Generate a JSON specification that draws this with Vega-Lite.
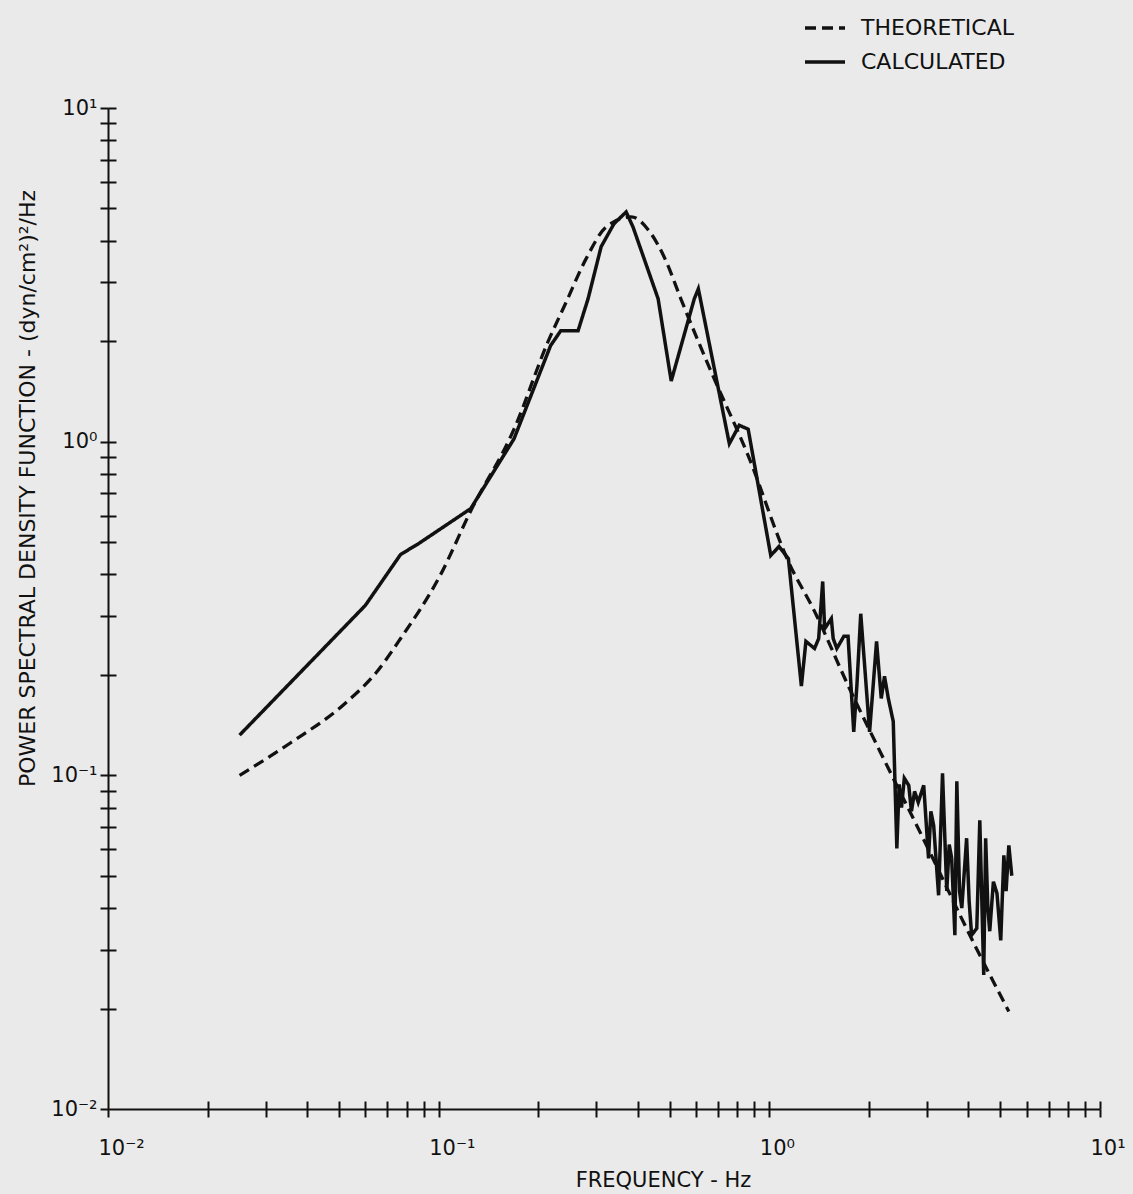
{
  "$schema": "https://vega.github.io/schema/vega-lite/v6.json",
  "width": 992,
  "height": 1001,
  "autosize": "none",
  "padding": {"left": 108, "top": 108, "right": 33, "bottom": 85},
  "background": "#eaeaea",
  "config": {
    "view": {"stroke": null},
    "axis": {
      "grid": false,
      "domainColor": "#111111",
      "tickColor": "#111111",
      "labelColor": "#111111",
      "titleColor": "#111111",
      "domainWidth": 2,
      "tickWidth": 2,
      "labelFont": "DejaVu Sans",
      "titleFont": "DejaVu Sans",
      "titleFontWeight": "normal",
      "labelOverlap": false,
      "labelFlush": false,
      "labelBound": false
    }
  },
  "datasets": {
    "theo": [
      {"f": 0.025, "p": 0.1},
      {"f": 0.0356, "p": 0.125},
      {"f": 0.052, "p": 0.164},
      {"f": 0.0644, "p": 0.202},
      {"f": 0.0767, "p": 0.257},
      {"f": 0.101, "p": 0.397},
      {"f": 0.125, "p": 0.62},
      {"f": 0.169, "p": 1.09},
      {"f": 0.214, "p": 1.99},
      {"f": 0.243, "p": 2.62},
      {"f": 0.279, "p": 3.53},
      {"f": 0.321, "p": 4.4},
      {"f": 0.382, "p": 4.72},
      {"f": 0.439, "p": 4.2},
      {"f": 0.487, "p": 3.48},
      {"f": 0.54, "p": 2.68},
      {"f": 0.667, "p": 1.62},
      {"f": 0.863, "p": 0.908},
      {"f": 1.142, "p": 0.437},
      {"f": 1.37, "p": 0.31},
      {"f": 1.73, "p": 0.186},
      {"f": 2.29, "p": 0.105},
      {"f": 2.89, "p": 0.066},
      {"f": 4.18, "p": 0.031},
      {"f": 5.3, "p": 0.0196}
    ],
    "calc": [
      {"f": 0.025, "p": 0.132},
      {"f": 0.06, "p": 0.323},
      {"f": 0.0767, "p": 0.459},
      {"f": 0.087, "p": 0.495},
      {"f": 0.125, "p": 0.63},
      {"f": 0.169, "p": 1.02},
      {"f": 0.218, "p": 1.94},
      {"f": 0.234, "p": 2.15},
      {"f": 0.264, "p": 2.15},
      {"f": 0.283, "p": 2.68},
      {"f": 0.31, "p": 3.84},
      {"f": 0.339, "p": 4.5},
      {"f": 0.369, "p": 4.88},
      {"f": 0.387, "p": 4.4},
      {"f": 0.461, "p": 2.68},
      {"f": 0.505, "p": 1.52},
      {"f": 0.593, "p": 2.68},
      {"f": 0.61, "p": 2.87},
      {"f": 0.757, "p": 0.986},
      {"f": 0.811, "p": 1.12},
      {"f": 0.863, "p": 1.09},
      {"f": 1.01, "p": 0.456},
      {"f": 1.07, "p": 0.485},
      {"f": 1.142, "p": 0.446},
      {"f": 1.25, "p": 0.185},
      {"f": 1.29, "p": 0.252},
      {"f": 1.37, "p": 0.24},
      {"f": 1.41, "p": 0.257},
      {"f": 1.45, "p": 0.381},
      {"f": 1.47, "p": 0.275},
      {"f": 1.54, "p": 0.295},
      {"f": 1.56, "p": 0.257},
      {"f": 1.6, "p": 0.24},
      {"f": 1.68, "p": 0.261},
      {"f": 1.73, "p": 0.261},
      {"f": 1.8, "p": 0.135},
      {"f": 1.84, "p": 0.186},
      {"f": 1.89, "p": 0.305},
      {"f": 2.01, "p": 0.135},
      {"f": 2.11, "p": 0.252},
      {"f": 2.18, "p": 0.17},
      {"f": 2.23, "p": 0.198},
      {"f": 2.29, "p": 0.17},
      {"f": 2.37, "p": 0.145},
      {"f": 2.43, "p": 0.0604},
      {"f": 2.47, "p": 0.094},
      {"f": 2.51, "p": 0.08},
      {"f": 2.56, "p": 0.098},
      {"f": 2.64, "p": 0.0933},
      {"f": 2.69, "p": 0.078},
      {"f": 2.75, "p": 0.0895},
      {"f": 2.82, "p": 0.083},
      {"f": 2.93, "p": 0.0933},
      {"f": 3.03, "p": 0.0564},
      {"f": 3.08, "p": 0.078},
      {"f": 3.14, "p": 0.0708},
      {"f": 3.25, "p": 0.0437},
      {"f": 3.34, "p": 0.1014},
      {"f": 3.44, "p": 0.045},
      {"f": 3.5, "p": 0.062},
      {"f": 3.56, "p": 0.0564},
      {"f": 3.64, "p": 0.0332},
      {"f": 3.69, "p": 0.096},
      {"f": 3.76, "p": 0.045},
      {"f": 3.82, "p": 0.04},
      {"f": 3.95, "p": 0.0648},
      {"f": 4.02, "p": 0.042},
      {"f": 4.09, "p": 0.0332},
      {"f": 4.24, "p": 0.0348},
      {"f": 4.33, "p": 0.0733},
      {"f": 4.45, "p": 0.0252},
      {"f": 4.51, "p": 0.0648},
      {"f": 4.58, "p": 0.04},
      {"f": 4.64, "p": 0.0341},
      {"f": 4.76, "p": 0.048},
      {"f": 4.88, "p": 0.0443},
      {"f": 5.01, "p": 0.032},
      {"f": 5.12, "p": 0.0576},
      {"f": 5.2, "p": 0.045},
      {"f": 5.3, "p": 0.0617},
      {"f": 5.41, "p": 0.05}
    ]
  },
  "layer": [
    {
      "data": {"name": "theo"},
      "mark": {"type": "line", "interpolate": "monotone", "strokeWidth": 3.3, "color": "#111111"},
      "encoding": {
        "x": {
          "field": "f", "type": "quantitative",
          "scale": {"type": "log", "domain": [0.01, 10], "nice": false},
          "axis": {
            "orient": "bottom",
            "values": [0.01, 0.02, 0.03, 0.04, 0.05, 0.06, 0.07, 0.08, 0.09, 0.1, 0.2, 0.3, 0.4, 0.5, 0.6, 0.7, 0.8, 0.9, 1, 2, 3, 4, 5, 6, 7, 8, 9, 10],
            "labelExpr": "datum.value == 0.01 ? '10⁻²' : datum.value == 0.1 ? '10⁻¹' : datum.value == 1 ? '10⁰' : datum.value == 10 ? '10¹' : ''",
            "tickSize": 8,
            "labelFontSize": 21,
            "labelAlign": "left",
            "labelOffset": -10,
            "labelPadding": 20,
            "title": "FREQUENCY - Hz",
            "titleFontSize": 21,
            "titleX": 555,
            "titleY": 71,
            "titleAlign": "center",
            "titleBaseline": "middle"
          }
        },
        "y": {
          "field": "p", "type": "quantitative",
          "scale": {"type": "log", "domain": [0.01, 10], "nice": false},
          "axis": {
            "orient": "left",
            "values": [0.01, 0.02, 0.03, 0.04, 0.05, 0.06, 0.07, 0.08, 0.09, 0.1, 0.2, 0.3, 0.4, 0.5, 0.6, 0.7, 0.8, 0.9, 1, 2, 3, 4, 5, 6, 7, 8, 9, 10],
            "labelExpr": "datum.value == 0.01 ? '10⁻²' : datum.value == 0.1 ? '10⁻¹' : datum.value == 1 ? '10⁰' : datum.value == 10 ? '10¹' : ''",
            "tickSize": 8,
            "labelFontSize": 21,
            "labelPadding": 3,
            "labelBaseline": "middle",
            "title": "POWER SPECTRAL DENSITY FUNCTION - (dyn/cm²)²/Hz",
            "titleFontSize": 22,
            "titleX": -81,
            "titleY": 380,
            "titleAlign": "center",
            "titleBaseline": "middle",
            "titleAngle": 270
          }
        },
        "strokeDash": {
          "datum": "THEORETICAL", "type": "nominal",
          "scale": {"domain": ["THEORETICAL", "CALCULATED"], "range": [[11, 6], [1, 0]]},
          "legend": {
            "title": null,
            "orient": "none",
            "legendX": 695,
            "legendY": -102,
            "symbolType": "stroke",
            "symbolSize": 1600,
            "symbolStrokeWidth": 3.3,
            "symbolStrokeColor": "#111111",
            "labelFont": "DejaVu Sans",
            "labelFontSize": 22,
            "labelColor": "#111111",
            "labelOffset": 14,
            "rowPadding": 1,
            "padding": 0
          }
        }
      }
    },
    {
      "data": {"name": "calc"},
      "mark": {"type": "line", "strokeWidth": 3.5, "color": "#111111"},
      "encoding": {
        "x": {
          "field": "f", "type": "quantitative",
          "scale": {"type": "log", "domain": [0.01, 10], "nice": false},
          "axis": {
            "orient": "bottom",
            "values": [0.02, 0.03, 0.04, 0.05, 0.06, 0.07, 0.08, 0.09, 0.1, 0.2, 0.3, 0.4, 0.5, 0.6, 0.7, 0.8, 0.9, 1, 2, 3, 4, 5, 6, 7, 8, 9, 10],
            "tickSize": -8,
            "labels": false,
            "domain": false,
            "title": null
          }
        },
        "y": {
          "field": "p", "type": "quantitative",
          "scale": {"type": "log", "domain": [0.01, 10], "nice": false},
          "axis": {
            "orient": "left",
            "values": [0.02, 0.03, 0.04, 0.05, 0.06, 0.07, 0.08, 0.09, 0.1, 0.2, 0.3, 0.4, 0.5, 0.6, 0.7, 0.8, 0.9, 1, 2, 3, 4, 5, 6, 7, 8, 9, 10],
            "tickSize": -8,
            "labels": false,
            "domain": false,
            "title": null
          }
        },
        "strokeDash": {"datum": "CALCULATED", "type": "nominal"}
      }
    }
  ],
  "resolve": {
    "scale": {"x": "independent", "y": "independent"},
    "axis": {"x": "independent", "y": "independent"}
  }
}
